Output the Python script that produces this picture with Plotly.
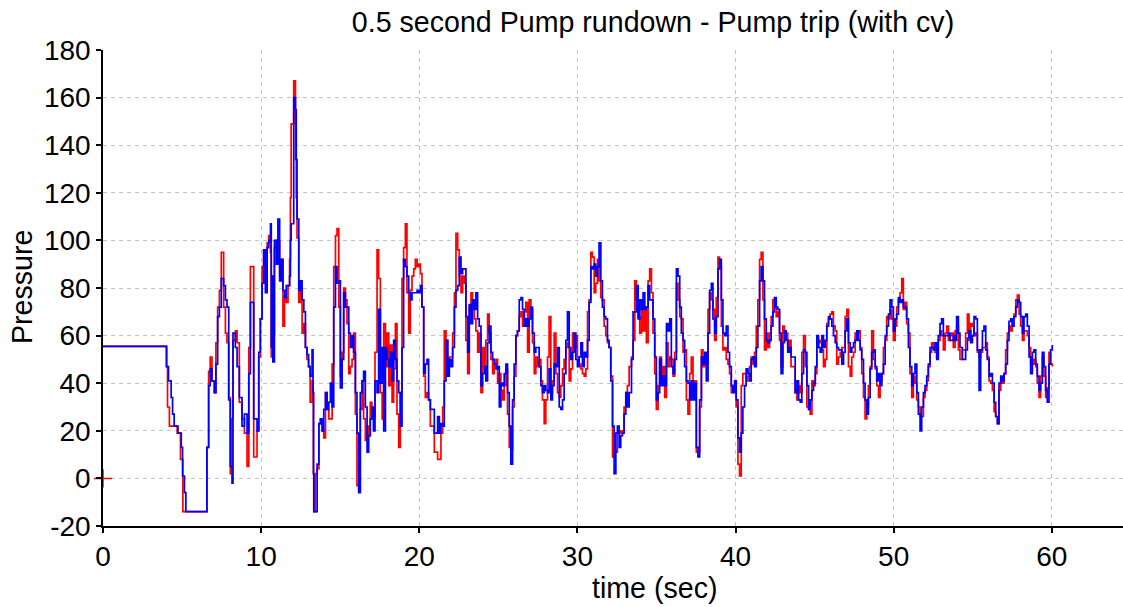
import plotly.graph_objects as go

# ---- data ----
time_s = [
    0, 4.0, 4.03, 4.08, 4.14, 4.2, 4.31, 4.4, 4.5, 4.69,
    4.74, 4.9, 4.95, 5.03, 5.05, 5.15, 5.24, 6.57, 6.68,
    6.78, 6.89, 7.04, 7.14, 7.25, 7.36, 7.48, 7.63, 7.74, 7.84,
    7.95, 8.05, 8.16, 8.22, 8.37, 8.48, 8.62, 8.79, 8.94, 9.11, 9.22,
    9.32, 9.53, 9.74, 9.85, 9.95, 10.06, 10.16, 10.27, 10.38, 10.48,
    10.59, 10.64, 10.69, 10.74, 10.84, 10.96, 11.06, 11.17, 11.27, 11.38,
    11.48, 11.59, 11.7, 11.8, 11.85, 11.9, 12.06, 12.17, 12.22, 12.27,
    12.38, 12.48, 12.59, 12.7, 12.8, 12.9, 13.0, 13.1, 13.22, 13.28,
    13.31, 13.33, 13.43, 13.54, 13.65, 13.75, 13.86, 13.96, 14.07, 14.17,
    14.28, 14.38, 14.49, 14.59, 14.7, 14.8, 14.91, 15.01, 15.12, 15.22,
    15.33, 15.43, 15.54, 15.64, 15.75, 15.85, 15.96, 16.06, 16.17, 16.27,
    16.38, 16.48, 16.59, 16.7, 16.8, 16.9, 17.0, 17.1, 17.2, 17.33,
    17.43, 17.54, 17.65, 17.75, 17.86, 17.96, 18.07, 18.17, 18.28, 18.38,
    18.49, 18.59, 18.7, 18.8, 18.91, 19.01, 19.12, 19.22, 19.33, 19.43,
    19.54, 19.65, 19.75, 19.86, 19.96, 20.07, 20.17, 20.28, 20.38, 20.49,
    20.59, 20.7,
    20.95, 21.16, 21.27, 21.37, 21.48, 21.58, 21.69, 21.8, 21.9, 22.01,
    22.11, 22.22, 22.32, 22.43, 22.53, 22.64, 22.74, 22.85, 22.95, 23.06,
    23.16, 23.27, 23.37, 23.48, 23.58, 23.69, 23.79, 23.9, 24.0, 24.11,
    24.21, 24.32, 24.42, 24.53, 24.64, 24.74, 24.85, 24.95, 25.06, 25.16,
    25.27, 25.37, 25.48, 25.58, 25.69, 25.79, 25.9, 26.0, 26.11, 26.21,
    26.32, 26.43, 26.53, 26.64, 26.74, 26.85, 26.95, 27.06, 27.16, 27.27,
    27.37, 27.48, 27.58, 27.69, 27.79, 27.9, 28.0, 28.11, 28.21, 28.32,
    28.42, 28.53, 28.64, 28.74, 28.85, 28.95, 29.06, 29.16, 29.27, 29.37,
    29.48, 29.58, 29.69, 29.79, 29.9, 30.0, 30.11, 30.22, 30.32, 30.43,
    30.53, 30.64, 30.74, 30.85, 30.95, 31.06, 31.16, 31.27, 31.37, 31.48,
    31.58, 31.69, 31.79, 31.9, 32.0, 32.11, 32.22, 32.32, 32.43, 32.53,
    32.64, 32.74, 32.85, 32.95, 33.06, 33.16, 33.27,
    33.42, 33.52, 33.63, 33.73, 33.84, 33.94, 34.05, 34.15, 34.26, 34.36,
    34.47, 34.57, 34.68, 34.78, 34.89, 34.99, 35.1, 35.2, 35.31, 35.42,
    35.52, 35.63, 35.73, 35.84, 35.94, 36.05, 36.15, 36.26, 36.36, 36.47,
    36.57, 36.68, 36.78, 36.89, 36.99, 37.1, 37.2, 37.31, 37.41, 37.52,
    37.62, 37.73, 37.84, 37.94, 38.05, 38.15, 38.26, 38.36, 38.47, 38.57,
    38.68, 38.78, 38.89, 38.99, 39.1, 39.2, 39.31, 39.41, 39.52, 39.62,
    39.73, 39.83, 39.94, 40.04, 40.15, 40.25, 40.36, 40.46, 40.57, 40.67,
    40.78, 40.88, 40.99, 41.1, 41.2, 41.31, 41.41, 41.52, 41.62, 41.73,
    41.83, 41.94, 42.04, 42.15, 42.25, 42.36, 42.46, 42.57, 42.67, 42.78,
    42.88, 42.99, 43.09, 43.2, 43.3, 43.41, 43.51,
    43.77, 43.88, 43.98, 44.09, 44.19, 44.3, 44.41, 44.51, 44.62, 44.72,
    44.83, 44.93, 45.04, 45.14, 45.25, 45.35, 45.46, 45.56, 45.67, 45.77,
    45.88, 45.98, 46.09, 46.19, 46.3, 46.4, 46.51, 46.62, 46.72, 46.83,
    46.93, 47.04, 47.14, 47.25, 47.35, 47.46, 47.56, 47.67, 47.77, 47.88,
    47.98, 48.09, 48.19, 48.3, 48.4, 48.51, 48.61, 48.72, 48.83, 48.93,
    49.04, 49.14, 49.25, 49.35, 49.46, 49.56, 49.67, 49.77, 49.88, 49.98,
    50.09, 50.19, 50.3, 50.4, 50.51, 50.61, 50.72, 50.82, 50.93, 51.03,
    51.14, 51.24, 51.35, 51.46, 51.56, 51.67, 51.77, 51.88, 51.98, 52.09,
    52.19, 52.3, 52.4, 52.51, 52.61, 52.72, 52.82, 52.93, 53.03, 53.14,
    53.25, 53.35, 53.46, 53.56, 53.67, 53.77, 53.88, 53.98, 54.09, 54.19,
    54.34, 54.55, 54.66, 54.76, 54.87, 54.98, 55.08, 55.19, 55.29, 55.4,
    55.5, 55.61, 55.71, 55.82, 55.92, 56.03, 56.13, 56.24, 56.35, 56.45,
    56.56, 56.66, 56.77, 56.87, 56.98, 57.08, 57.19, 57.29, 57.4, 57.5,
    57.61, 57.72, 57.82, 57.93, 58.03, 58.14, 58.24, 58.35, 58.45, 58.56,
    58.66, 58.77, 58.87, 58.98, 59.08, 59.19, 59.29, 59.4, 59.5, 59.61,
    59.71, 59.82, 59.92, 60.03,
]

pressure_red = [
    55.5, 47, 47, 30, 30, 22, 22, 22, 22, 19,
    19, 8, 8, 8, -14, -14, -14, 13, 45,
    51, 41, 36, 57, 72, 79, 95, 72, 61, 57,
    34, 2, 25, 58, 62, 57, 32, 25, 19, 5, 55,
    89, 9, 20, 51, 67, 89, 96, 95, 99, 102,
    95, 51, 85, 60, 97, 100, 100, 85, 92, 64,
    76, 74, 81, 92, 118, 149, 167, 134, 118, 101,
    74, 80, 61, 65, 55, 50, 47, 32, 41, 36,
    2, -14, 2, 4, 23, 25, 20, 17, 36, 29,
    25, 25, 48, 89, 102, 105, 72, 43, 53, 80,
    75, 65, 44, 47, 50, 61, 27, -3, -5, 29,
    41, 25, 16, 22, 18, 32, 30, 26, 53, 96,
    84, 36, 25, 65, 47, 61, 39, 56, 32, 46,
    65, 27, 13, 36, 84, 97, 107, 78, 61, 79,
    85, 88, 92, 89, 90, 86, 72, 43, 34, 36,
    33, 22,
    11, 8, 8, 19, 30, 62, 58, 50, 51, 51,
    61, 78, 103, 96, 85, 78, 85, 82, 58, 44,
    72, 78, 72, 67, 62, 53, 61, 36, 55, 47,
    58, 69, 61, 50, 44, 48, 50, 40, 44, 37,
    33, 39, 46, 27, 13, 12, 30, 43, 60, 62,
    68, 70, 64, 70, 74, 53, 75, 71, 57, 44,
    51, 47, 50, 41, 33, 23, 33, 51, 68, 36,
    41, 61, 44, 36, 34, 39, 46, 50, 55, 57,
    41, 46, 61, 55, 60, 51, 48, 46, 44, 43,
    46, 70, 75, 95, 93, 78, 82, 92, 83, 76,
    75, 64, 60, 57, 55, 43, 9, 12, 11, 19,
    20, 19, 20, 30, 36, 39, 47,
    51, 58, 83, 75, 68, 61, 75, 62, 72, 57,
    83, 88, 78, 61, 44, 29, 39, 51, 40, 47,
    34, 57, 47, 51, 50, 43, 53, 82, 75, 68,
    67, 53, 54, 33, 27, 44, 51, 36, 41, 11,
    11, 30, 54, 47, 51, 48, 71, 78, 75, 71,
    58, 76, 93, 89, 64, 54, 55, 50, 48, 44,
    36, 39, 39, 30, 6, 1, 39, 44, 44, 41,
    43, 47, 51, 48, 53, 64, 75, 92, 95, 75,
    54, 61, 55, 61, 68, 75, 75, 68, 70, 58,
    47, 64, 61, 61, 55, 58, 47,
    36, 33, 39, 36, 53, 60, 47, 30, 29, 27,
    41, 39, 44, 55, 58, 57, 54, 47, 50, 65,
    67, 69, 70, 64, 62, 48, 51, 53, 55, 55,
    68, 71, 47, 43, 51, 53, 61, 61, 62, 55,
    44, 34, 25, 30, 39, 47, 62, 50, 46, 39,
    34, 41, 44, 55, 58, 68, 67, 71, 67, 58,
    64, 72, 75, 78, 84, 71, 74, 65, 61, 44,
    34, 43, 40, 33, 30, 26, 26, 34, 37, 41,
    47, 53, 57, 55, 53, 51, 58, 62, 60, 54,
    61, 64, 58, 60, 61, 55, 62, 64, 54, 50,
    54, 61, 69, 58, 65, 64, 60, 61, 53, 51,
    53, 55, 55, 57, 51, 41, 40, 37, 28, 26,
    23, 37, 41, 40, 44, 54, 61, 64, 62, 67,
    69, 75, 77, 69, 64, 58, 62, 62, 60, 55,
    48, 48, 50, 47, 40, 34, 43, 51, 43, 34,
    38, 53, 48, 47,
]

pressure_blue = [
    55.5, 55.5, 47, 47, 41, 41, 34, 27, 22, 22,
    19, 19, 13, 1, 1, -6, -14, 13, 39,
    46, 41, 36, 48, 68, 72, 84, 81, 75, 72,
    33, 5, -2, 61, 55, 47, 34, 22, 27, 19, 44,
    74, 25, 20, 53, 67, 82, 96, 78, 97, 100,
    107, 55, 85, 49, 100, 90, 109, 83, 92, 79,
    76, 81, 81, 85, 100, 107, 160, 155, 134, 109,
    79, 83, 75, 70, 55, 52, 47, 43, 54, 36,
    2, -14, -14, 6, 23, 25, 20, 29, 36, 29,
    32, 40, 30, 72, 89, 82, 83, 38, 50, 78,
    72, 72, 61, 55, 60, 53, 36, 19, -6, 36,
    41, 45, 30, 11, 18, 25, 30, 20, 41, 36,
    71, 40, 55, 20, 55, 50, 47, 53, 41, 58,
    50, 41, 36, 22, 55, 92, 89, 85, 78, 75,
    78, 78, 78, 79, 78, 81, 72, 44, 48, 50,
    33, 29,
    19, 26, 19, 23, 22, 41, 58, 43, 50, 47,
    55, 72, 79, 81, 93, 86, 88, 88, 68, 53,
    73, 65, 75, 71, 78, 67, 64, 39, 44, 47,
    41, 57, 64, 53, 50, 48, 46, 47, 30, 40,
    39, 44, 48, 36, 22, 6, 33, 48, 60, 62,
    75, 76, 71, 64, 67, 64, 67, 72, 61, 53,
    55, 55, 47, 39, 36, 39, 37, 36, 46, 33,
    39, 48, 47, 55, 30, 29, 33, 44, 58, 70,
    55, 50, 53, 61, 50, 47, 51, 57, 47, 53,
    51, 58, 74, 89, 88, 90, 85, 89, 99, 83,
    72, 68, 67, 58, 55, 41, 22, 2, 19, 22,
    13, 18, 19, 27, 36, 30, 36,
    50, 70, 70, 81, 67, 75, 71, 78, 71, 72,
    81, 75, 75, 67, 51, 33, 36, 50, 39, 43,
    39, 65, 62, 67, 47, 44, 50, 88, 85, 72,
    61, 58, 47, 41, 40, 33, 41, 33, 40, 13,
    9, 33, 51, 48, 53, 41, 61, 79, 82, 67,
    61, 68, 88, 92, 75, 61, 60, 64, 53, 47,
    39, 36, 41, 33, 17, 11, 19, 30, 39, 46,
    44, 41, 50, 51, 47, 55, 64, 83, 89, 83,
    67, 58, 57, 58, 64, 70, 76, 72, 71, 61,
    44, 57, 62, 58, 53, 55, 51,
    36, 41, 33, 32, 44, 54, 53, 39, 29, 33,
    37, 40, 47, 60, 55, 53, 60, 55, 58, 64,
    68, 67, 64, 60, 57, 55, 54, 54, 48, 53,
    62, 67, 57, 53, 55, 57, 58, 62, 58, 54,
    50, 40, 33, 27, 34, 46, 53, 54, 47, 41,
    44, 39, 44, 48, 60, 64, 69, 75, 72, 62,
    67, 69, 76, 74, 75, 72, 72, 67, 55, 47,
    39, 44, 48, 36, 27, 20, 30, 36, 39, 43,
    48, 55, 55, 54, 57, 50, 60, 65, 67, 60,
    60, 60, 61, 58, 58, 60, 58, 68, 61, 55,
    50, 54, 59, 62, 57, 60, 68, 67, 54, 37,
    54, 62, 64, 54, 50, 43, 44, 40, 32, 26,
    23, 40, 43, 41, 44, 48, 58, 66, 67, 64,
    68, 72, 75, 74, 68, 61, 68, 69, 64, 51,
    44, 53, 54, 48, 43, 37, 40, 53, 47, 37,
    32, 48, 54, 56,
]

marker_x = [0]
marker_y = [0]

x_ticks = [0, 10, 20, 30, 40, 50, 60]
x_tick_text = ["0", "10", "20", "30", "40", "50", "60"]
y_ticks = [-20, 0, 20, 40, 60, 80, 100, 120, 140, 160, 180]
y_tick_text = ["-20", "0", "20", "40", "60", "80", "100", "120", "140", "160", "180"]

title_text = "0.5 second Pump rundown - Pump trip (with cv)"
x_title = "time (sec)"
y_title = "Pressure"

FONT = "Liberation Sans, Arial, sans-serif"

fig = go.Figure()
fig.add_trace(go.Scatter(
    x=time_s, y=pressure_red, mode="lines", line_shape="hv",
    line=dict(color="#ff0000", width=1.7), showlegend=False, name="red"))
fig.add_trace(go.Scatter(
    x=time_s, y=pressure_blue, mode="lines", line_shape="hv",
    line=dict(color="#0000ff", width=1.7), showlegend=False, name="blue"))
fig.add_trace(go.Scatter(
    x=marker_x, y=marker_y, mode="markers", cliponaxis=False,
    marker=dict(symbol="cross-thin", size=13, color="#ff0000",
                line=dict(color="#ff0000", width=1.5)),
    showlegend=False))

fig.update_layout(
    width=1123, height=607,
    margin=dict(l=103, r=0, t=50, b=81, autoexpand=False),
    paper_bgcolor="white", plot_bgcolor="white",
    font=dict(family=FONT, size=28, color="black"),
    title=dict(text=title_text, x=653 / 1123, xref="container", xanchor="center",
               y=1 - 22 / 607, yref="container", yanchor="middle",
               font=dict(family=FONT, size=28.6, color="black")),
    annotations=[
        dict(text=x_title, xref="paper", yref="paper",
             x=(655 - 103) / 1020, y=-(588 - 526) / 476,
             xanchor="center", yanchor="middle", showarrow=False,
             font=dict(family=FONT, size=28.6, color="black")),
        dict(text=y_title, xref="paper", yref="paper",
             x=(22 - 103) / 1020, y=(526 - 287) / 476, textangle=-90,
             xanchor="center", yanchor="middle", showarrow=False,
             font=dict(family=FONT, size=28.6, color="black")),
    ],
)

fig.update_xaxes(
    range=[0, 64.5], tickvals=x_ticks, ticktext=x_tick_text, automargin=False,
    showline=True, linecolor="black", linewidth=1.6,
    ticks="outside", ticklen=5, tickwidth=1.5, tickcolor="black",
    showgrid=True, gridcolor="#c4c4c4", gridwidth=1, griddash="4px,4px",
    zeroline=False, tickfont=dict(family=FONT, size=28, color="black"))
fig.update_yaxes(
    range=[-20, 180], tickvals=y_ticks, ticktext=y_tick_text, automargin=False,
    showline=True, linecolor="black", linewidth=1.6,
    ticks="outside", ticklen=5, tickwidth=1.5, tickcolor="black",
    showgrid=True, gridcolor="#c4c4c4", gridwidth=1, griddash="4px,4px",
    zeroline=False, tickfont=dict(family=FONT, size=28, color="black"))

fig.write_html(
    "out.html",
    config={"displayModeBar": False},
    post_script="document.body.style.margin='0px';document.body.style.overflow='hidden';",
)
